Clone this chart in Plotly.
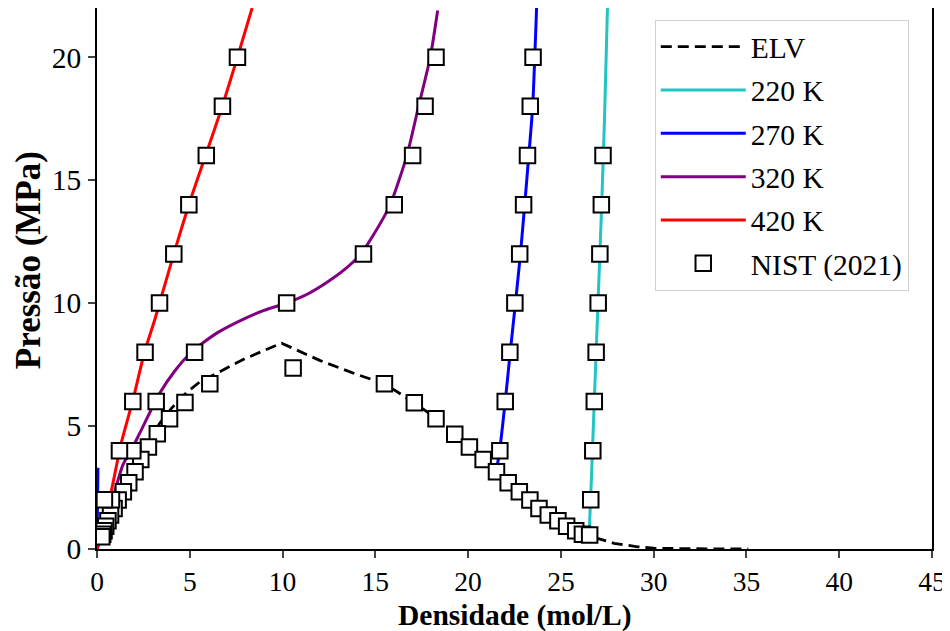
import plotly.graph_objects as go

# ---------------- data (density mol/L, pressure MPa) ----------------
# ELV model curve (dashed)
elv_rho = [0.0, 0.3, 0.7, 1.2, 1.8, 2.5, 3.37, 4.0, 4.8, 5.53, 6.43, 8.0, 9.95,
           12.0, 14.0, 15.5, 17.1, 18.3, 19.3, 20.1, 20.8, 21.5, 22.2, 22.8, 23.3,
           23.8, 24.3, 24.8, 25.3, 25.8, 26.2, 26.8, 27.87, 29.13, 30.0, 32.0, 35.1]
elv_p = [0.0, 0.6, 1.3, 2.1, 3.0, 4.0, 5.1, 5.71, 6.35, 6.79, 7.13, 7.75, 8.37,
         7.67, 7.1, 6.72, 5.95, 5.3, 4.67, 4.15, 3.64, 3.14, 2.69, 2.33, 1.99,
         1.65, 1.38, 1.15, 0.93, 0.74, 0.6, 0.47, 0.23, 0.09, 0.03, 0.01, 0.0]

# isotherm model curves (vapour branch, gap, liquid branch)
t220_rho = [0.0, 0.02, None, 26.52, 26.6, 26.8, 27.0, 27.2, 27.35, 27.51]
t220_p = [0.0, 0.6, None, 0.6, 2.0, 6.0, 10.0, 14.0, 17.5, 22.0]

t270_rho = [0.0, 0.05, None, 21.55, 21.7, 22.0, 22.27, 22.55, 22.82, 23.05, 23.27, 23.48, 23.69]
t270_p = [0.0, 3.3, None, 3.3, 4.0, 6.0, 8.0, 10.0, 12.0, 14.0, 16.0, 18.0, 22.0]

t320_rho = [0.0, 0.75, 1.39, 1.93, 2.29, 3.37, 4.2, 5.0, 5.53, 6.5, 7.9, 9.0, 10.2,
            11.3, 12.4, 13.4, 14.19, 15.0, 15.8, 16.7, 17.33, 17.96, 18.36]
t320_p = [0.0, 1.8, 3.41, 4.15, 4.69, 6.32, 7.25, 7.94, 8.28, 8.8, 9.35, 9.7, 10.0,
          10.35, 10.85, 11.4, 11.97, 12.9, 14.0, 16.0, 18.0, 20.0, 21.9]

t420_rho = [0.0, 0.76, 1.30, 1.93, 2.56, 3.1, 3.37, 4.14, 4.95, 5.85, 6.75, 7.57, 8.36]
t420_p = [0.0, 2.32, 4.29, 6.04, 8.0, 9.29, 10.0, 12.0, 14.0, 16.0, 18.0, 20.0, 22.0]

# NIST (2021) reference points
nist_elv_rho = [10.57,
                15.49, 17.1, 18.27, 19.28, 20.07, 20.81, 21.53, 22.16, 22.76, 23.33,
                23.82, 24.32, 24.84, 25.31, 25.80, 26.16, 26.55,
                6.08, 4.74, 3.91, 3.25, 2.77, 2.36, 2.05, 1.71, 1.42, 1.14,
                0.92, 0.73, 0.59, 0.47, 0.38, 0.31, 0.26]
nist_elv_p = [7.36,
              6.72, 5.95, 5.30, 4.67, 4.15, 3.64, 3.14, 2.69, 2.33, 1.99,
              1.65, 1.38, 1.15, 0.93, 0.74, 0.60, 0.57,
              6.72, 5.96, 5.30, 4.69, 4.15, 3.64, 3.14, 2.69, 2.33, 1.99,
              1.65, 1.38, 1.15, 0.93, 0.74, 0.60, 0.50]

nist220_rho = [26.61, 26.72, 26.80, 26.90, 27.01, 27.10, 27.18, 27.27]
nist220_p = [2, 4, 6, 8, 10, 12, 14, 16]

nist270_rho = [21.71, 22.0, 22.25, 22.52, 22.78, 22.99, 23.2, 23.35, 23.5]
nist270_p = [4, 6, 8, 10, 12, 14, 16, 18, 20]

nist320_rho = [0.78, 1.93, 3.19, 5.26, 10.22, 14.36, 16.02, 17.01, 17.68, 18.27]
nist320_p = [2, 4, 6, 8, 10, 12, 14, 16, 18, 20]

nist420_rho = [0.40, 1.21, 1.93, 2.59, 3.37, 4.14, 4.95, 5.89, 6.76, 7.57]
nist420_p = [2, 4, 6, 8, 10, 12, 14, 16, 18, 20]

x_ticks = [0, 5, 10, 15, 20, 25, 30, 35, 40, 45]
y_ticks = [0, 5, 10, 15, 20]

# ---------------- figure ----------------
FONT = "Liberation Serif"
FS = 29.5
fig = go.Figure()

fig.add_trace(go.Scatter(x=elv_rho, y=elv_p, mode="lines", name="ELV",
                         line=dict(color="black", width=2.8, dash="11px,6px"),
                         legendgroup="a"))
for rho, p, name, col, g in [(t220_rho, t220_p, "220 K", "#22c4c4", "b"),
                             (t270_rho, t270_p, "270 K", "#0000ff", "c"),
                             (t320_rho, t320_p, "320 K", "#800080", "d"),
                             (t420_rho, t420_p, "420 K", "#ff0000", "e")]:
    fig.add_trace(go.Scatter(x=rho, y=p, mode="lines", name=name,
                             line=dict(color=col, width=3, shape="spline", smoothing=0.6),
                             connectgaps=False, legendgroup=g))

marker = dict(symbol="square", size=15.5, color="white",
              line=dict(color="black", width=2))
first = True
for rho, p in [(nist_elv_rho, nist_elv_p), (nist220_rho, nist220_p),
               (nist270_rho, nist270_p), (nist320_rho, nist320_p),
               (nist420_rho, nist420_p)]:
    fig.add_trace(go.Scatter(x=rho, y=p, mode="markers", name="NIST (2021)",
                             marker=marker, showlegend=first, legendgroup="f"))
    first = False

# page body has an 8px margin, so the figure is sized 942x623
fig.update_layout(
    width=942, height=623,
    margin=dict(l=89, r=18, t=0, b=82, autoexpand=False),
    paper_bgcolor="white", plot_bgcolor="white",
    font=dict(family=FONT, size=FS, color="black"),
    showlegend=True,
    legend=dict(x=0.668, y=0.978, xanchor="left", yanchor="top",
                bgcolor="rgba(255,255,255,0.9)", bordercolor="#d0d0d0", borderwidth=1,
                font=dict(family=FONT, size=FS), tracegroupgap=2,
                itemwidth=85),
    annotations=[
        dict(text="<b>Densidade (mol/L)</b>", xref="paper", yref="paper",
             x=0.5006, y=-0.1238, xanchor="center", yanchor="middle",
             showarrow=False, font=dict(family=FONT, size=FS)),
        dict(text="<b>Pressão (MPa)</b>", xref="paper", yref="paper",
             x=-0.0826, y=0.534, xanchor="center", yanchor="middle", textangle=-90,
             showarrow=False, font=dict(family=FONT, size=35)),
    ],
)
fig.update_xaxes(range=[0, 45], tickvals=x_ticks, ticks="outside", ticklen=7,
                 tickwidth=1.5, showline=True, linecolor="black", linewidth=1.5,
                 mirror=True, showgrid=False, zeroline=False, automargin=False,
                 tickfont=dict(size=27.5))
fig.update_yaxes(range=[0, 22], tickvals=y_ticks, ticks="outside", ticklen=7,
                 tickwidth=1.5, showline=True, linecolor="black", linewidth=1.5,
                 mirror=True, showgrid=False, zeroline=False, automargin=False,
                 ticklabelstandoff=1, tickfont=dict(size=29.5))

fig.write_html("out.html")
